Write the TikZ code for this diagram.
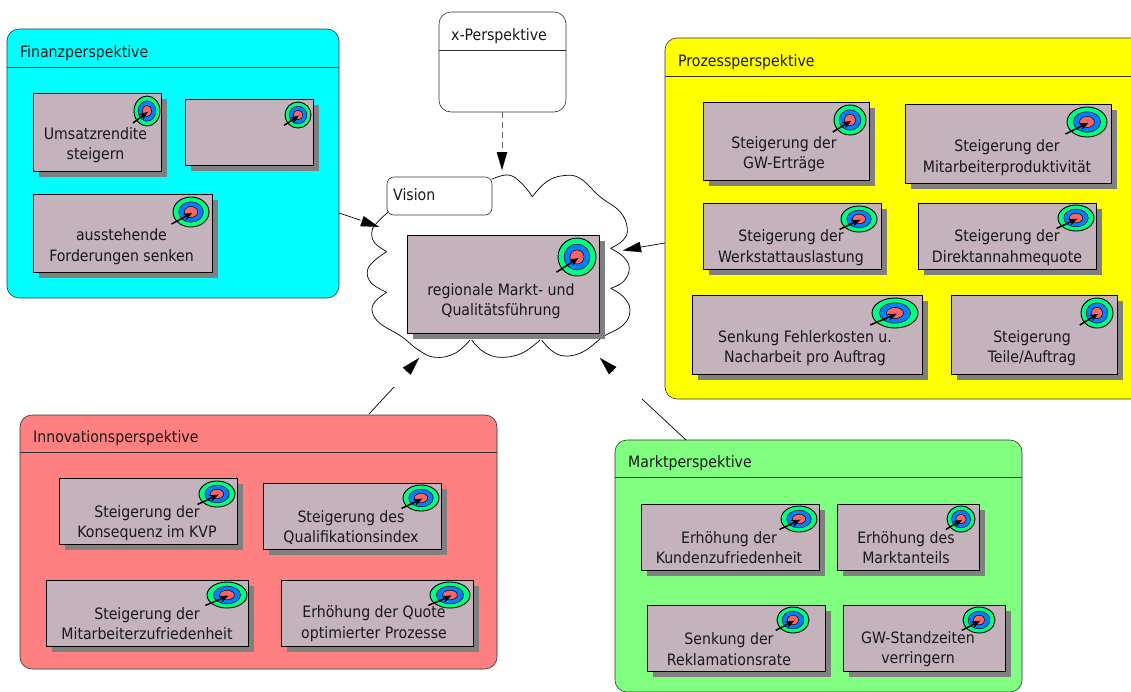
\documentclass[tikz,border=0pt]{standalone}
\usepackage{fontspec}
\setmainfont{DejaVu Sans Condensed}
\usetikzlibrary{arrows.meta}
\definecolor{kpifill}{RGB}{196,178,188}
\definecolor{shadowgray}{RGB}{128,128,128}
\definecolor{tgreen}{RGB}{0,255,128}
\definecolor{tblue}{RGB}{0,128,255}
\definecolor{tred}{RGB}{255,100,100}
\definecolor{pcyan}{RGB}{0,255,255}
\definecolor{pyellow}{RGB}{255,255,0}
\definecolor{pred}{RGB}{255,128,128}
\definecolor{pgreen}{RGB}{128,255,128}
\tikzset{
  txt/.style={font=\fontsize{15.7}{20.5}\selectfont,align=center,inner sep=0pt,text=black!90},
  ttl/.style={font=\fontsize{15.7}{17}\selectfont,anchor=west,inner sep=0pt,text=black!90},
  panelbox/.style={draw=black!80,line width=0.6pt,rounded corners=12pt,inner sep=0pt,outer sep=0pt},
  kpibox/.style={draw=black,line width=0.9pt,fill=kpifill,inner sep=0pt,outer sep=0pt},
  shadowbox/.style={fill=shadowgray,inner sep=0pt,outer sep=0pt},
  connector/.style={line width=0.7pt,draw=black},
  headarrow/.style={line width=0.1pt,-{Triangle[length=18pt,width=10.5pt,fill=black]}},
}
\newcommand{\Rect}[6]{\node[#2,minimum width={((#5)-(#3))*1pt},minimum height={((#6)-(#4))*1pt}] (#1) at ({((#3)+(#5))/2},{((#4)+(#6))/2}) {};}
\newcommand{\Target}[4]{%
  \draw[fill=tgreen,line width=0.9pt] (#1,#2) ellipse [x radius=#3,y radius=#4];
  \draw[fill=tblue,line width=0.5pt] (#1,#2) ellipse [x radius=0.68*#3,y radius=0.68*#4];
  \draw[fill=tred,line width=0.5pt] (#1,#2) ellipse [x radius=0.37*#3,y radius=0.37*#4];
  \draw[line width=1.5pt,-{Stealth[length=9pt,width=7pt]}] ({#1-1.08*#3},{#2+0.8*#4}) -- ({#1+0.08*#3},{#2+0.05*#4});
}
\newcommand{\Kpi}[9]{%
  \Rect{#1s}{shadowbox}{#2+6}{#3+6}{#4+6}{#5+6}
  \Rect{#1}{kpibox}{#2}{#3}{#4}{#5}
  \Target#6
  \node[txt] (#1t) at (#7,#8) {#9};
}
\newcommand{\Panel}[8]{%
  \Rect{#1}{panelbox,fill=#2}{#3}{#4}{#5}{#6}
  \draw[line width=0.6pt,draw=black!80] (#1.west |- 0,#7) coordinate (#1l) -- (#1.east |- 0,#7) coordinate (#1r);
  \node[ttl] (#1t) at (#3+13,#7-13.5) {#8};
}
\begin{document}
\begin{tikzpicture}[x=1pt,y=-1pt]
\useasboundingbox (0,0) rectangle (1131,691);
\clip (0,0) rectangle (1131,691);

% cloud
\begin{scope}[shift={(340,140)},x=0.3333pt,y=-0.3333pt,line width=0.7pt]
\draw plot[smooth,tension=0.6] coordinates {(145,215)(105,255)(95,280)(105,310)(140,335)};
\draw plot[smooth,tension=0.7] coordinates {(140,335)(100,365)(82,395)(95,430)(140,457)};
\draw plot[smooth,tension=0.7] coordinates {(140,457)(105,485)(97,515)(120,550)(185,590)(235,630)(285,652)(345,640)(390,600)};
\draw plot[smooth,tension=0.7] coordinates {(395,600)(430,635)(480,652)(545,640)(600,600)};
\draw plot[smooth,tension=0.7] coordinates {(605,600)(635,632)(675,648)(730,635)(790,590)(850,555)(870,510)(850,470)(812,445)};
\draw plot[smooth,tension=0.7] coordinates {(812,445)(850,425)(868,385)(850,350)(812,325)};
\draw plot[smooth,tension=0.7] coordinates {(812,325)(850,300)(862,265)(840,215)(780,170)(720,115)(670,107)(620,125)(577,170)};
\draw plot[smooth,tension=0.7] coordinates {(577,170)(545,130)(505,105)(455,118)};
\end{scope}

% panels
\Panel{fin}{pcyan}{7}{29}{339}{298}{67}{Finanzperspektive}
\Panel{pro}{pyellow}{665}{38}{1150}{399}{76}{Prozessperspektive}
\Panel{inn}{pred}{20}{415}{497}{669}{452}{Innovationsperspektive}
\Panel{mar}{pgreen}{615}{440}{1022}{692}{477}{Marktperspektive}

% x-Perspektive and Vision
\Rect{xp}{panelbox,fill=white}{439}{12}{566}{112}
\draw[line width=0.6pt,draw=black!80] (xp.west |- 0,50) -- (xp.east |- 0,50);
\node[ttl] (xpt) at (451,36.5) {x-Perspektive};
\Rect{vis}{draw=black!80,line width=0.6pt,rounded corners=7pt,inner sep=0pt,outer sep=0pt,fill=white}{387}{177}{492}{215}
\node[ttl] (vist) at (393,195) {Vision};

% connectors
\coordinate (c1a) at (339,213); \coordinate (c1b) at (360,220);
\coordinate (h1a) at (360,220.5); \coordinate (h1b) at (379,227);
\draw[connector] (c1a) -- (c1b);
\draw[headarrow] (h1a) -- (h1b);
\coordinate (c2a) at (665,243); \coordinate (c2b) at (641,247);
\coordinate (h2b) at (623,250.5);
\draw[connector] (c2a) -- (c2b);
\draw[headarrow] (c2b) -- (h2b);
\coordinate (c3a) at (369,414); \coordinate (c3b) at (394,387);
\coordinate (h3a) at (406,372); \coordinate (h3b) at (419,358);
\draw[connector] (c3a) -- (c3b);
\draw[headarrow] (h3a) -- (h3b);
\coordinate (c4a) at (686,440); \coordinate (c4b) at (642,399);
\coordinate (h4a) at (614,372); \coordinate (h4b) at (600,358);
\draw[connector] (c4a) -- (c4b);
\draw[headarrow] (h4a) -- (h4b);
\coordinate (c5b) at (502,152); \coordinate (c5c) at (502,170);
\draw[connector,draw=black!60,dash pattern=on 6pt off 4pt] (xp.south -| c5b) -- (c5b);
\draw[headarrow] (c5b) -- (c5c);

% central
\Kpi{vision}{407}{235}{599}{333}{{577}{257}{19}{19}}{501}{301}{regionale Markt- und\\Qualitätsführung}

% Finanz
\Kpi{f1}{33}{93}{161}{171}{{147}{111}{13}{15}}{95.5}{145}{Umsatzrendite\\steigern}
\Kpi{f2}{185}{99}{313}{165}{{298}{115}{13}{13}}{249}{132}{}
\Kpi{f3}{33}{194}{212}{272}{{191}{212}{18}{15}}{121.5}{246.5}{ausstehende\\Forderungen senken}

% Prozess
\Kpi{p1}{703}{102}{869}{180}{{850}{120}{16}{15}}{784}{154}{Steigerung der\\GW-Erträge}
\Kpi{p2}{905}{104}{1111}{183}{{1087}{122}{20}{15}}{1007}{157.5}{Steigerung der\\Mitarbeiterproduktivität}
\Kpi{p3}{703}{203}{881}{269}{{859}{219}{18}{13}}{791}{247.5}{Steigerung der\\Werkstattauslastung}
\Kpi{p4}{918}{203}{1096}{269}{{1076}{218}{18}{13}}{1007}{247.5}{Steigerung der\\Direktannahmequote}
\Kpi{p5}{692}{295}{922}{374}{{895}{313}{23}{15}}{805}{348}{Senkung Fehlerkosten u.\\Nacharbeit pro Auftrag}
\Kpi{p6}{951}{295}{1117}{374}{{1097}{313}{16}{15}}{1032}{348}{Steigerung\\Teile/Auftrag}

% Innovation
\Kpi{i1}{59}{478}{237}{544}{{217}{494}{18}{13}}{147}{523}{Steigerung der\\Konsequenz im KVP}
\Kpi{i2}{263}{483}{441}{549}{{421}{498}{18}{13}}{351}{527.5}{Steigerung des\\Qualifikationsindex}
\Kpi{i3}{46}{580}{248}{646}{{227}{595}{20}{13}}{147}{623.5}{Steigerung der\\Mitarbeiterzufriedenheit}
\Kpi{i4}{281}{580}{473}{646}{{450}{595}{20}{13}}{374}{623.5}{Erhöhung der Quote\\optimierter Prozesse}

% Markt
\Kpi{m1}{641}{504}{819}{570}{{799}{519}{18}{13}}{729}{547.5}{Erhöhung der\\Kundenzufriedenheit}
\Kpi{m2}{837}{504}{979}{570}{{961}{519}{14}{13}}{906}{547.5}{Erhöhung des\\Marktanteils}
\Kpi{m3}{647}{605}{825}{671}{{793}{620}{16}{13}}{729}{649}{Senkung der\\Reklamationsrate}
\Kpi{m4}{843}{605}{1005}{671}{{979}{620}{16}{13}}{918}{649}{GW-Standzeiten\\verringern}
\end{tikzpicture}
\end{document}
